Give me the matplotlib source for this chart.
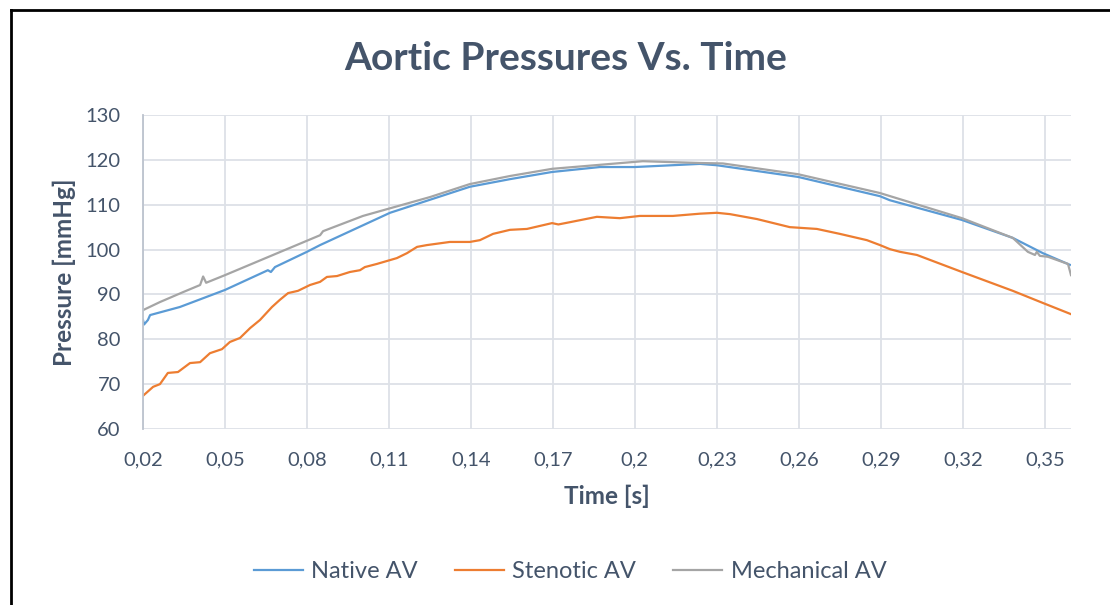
import matplotlib

matplotlib.use("Agg")
import matplotlib.pyplot as plt
from matplotlib.lines import Line2D
from matplotlib.ticker import FixedLocator, FuncFormatter

# aortic pressure traces (time in s, pressure in mmHg)
t_native = [0.0200, 0.0204, 0.0218, 0.0226, 0.0335, 0.0500, 0.0657, 0.0668, 0.0683,
            0.0800, 0.0848, 0.1104, 0.1396, 0.1543, 0.1697, 0.1872, 0.2000, 0.2238,
            0.2300, 0.2597, 0.2897, 0.2933, 0.3197, 0.3383, 0.3493, 0.3592]
p_native = [84.3, 83.3, 84.3, 85.4, 87.2, 91.0, 95.4, 95.0, 96.1,
            99.5, 101.0, 108.2, 114.0, 115.7, 117.3, 118.4, 118.4, 119.1,
            118.8, 116.2, 111.9, 111.0, 106.6, 102.6, 99.2, 96.6]

t_stenotic = [0.0200, 0.0237, 0.0262, 0.0291, 0.0328, 0.0372, 0.0409, 0.0445, 0.0489,
              0.0518, 0.0555, 0.0592, 0.0628, 0.0672, 0.0701, 0.0731, 0.0767, 0.0811,
              0.0848, 0.0873, 0.0910, 0.0957, 0.0994, 0.1012, 0.1056, 0.1129, 0.1166,
              0.1203, 0.1239, 0.1323, 0.1396, 0.1433, 0.1481, 0.1543, 0.1605, 0.1697,
              0.1720, 0.1762, 0.1861, 0.1945, 0.2018, 0.2139, 0.2238, 0.2300, 0.2348,
              0.2447, 0.2567, 0.2666, 0.2750, 0.2849, 0.2897, 0.2933, 0.2970, 0.3032,
              0.3197, 0.3383, 0.3493, 0.3596]
p_stenotic = [67.4, 69.4, 70.0, 72.5, 72.7, 74.7, 74.9, 76.9, 77.8,
              79.4, 80.3, 82.5, 84.3, 87.2, 88.8, 90.3, 90.8, 92.1,
              92.8, 93.9, 94.1, 95.0, 95.4, 96.1, 96.8, 98.1, 99.2,
              100.6, 101.0, 101.7, 101.7, 102.1, 103.5, 104.4, 104.6, 105.9,
              105.6, 106.1, 107.3, 107.0, 107.5, 107.5, 108.0, 108.2, 107.9,
              106.8, 105.0, 104.6, 103.5, 102.1, 101.0, 100.1, 99.5, 98.8,
              95.0, 90.8, 88.1, 85.6]

t_mech = [0.0200, 0.0262, 0.0346, 0.0409, 0.0420, 0.0431, 0.0500, 0.0676, 0.0848,
          0.0859, 0.1005, 0.1104, 0.1250, 0.1396, 0.1543, 0.1697, 0.2029, 0.2238,
          0.2322, 0.2597, 0.2897, 0.3197, 0.3383, 0.3438, 0.3464, 0.3471, 0.3482,
          0.3511, 0.3585, 0.3596]
p_mech = [86.5, 88.3, 90.5, 92.1, 94.0, 92.6, 94.3, 98.8, 103.2,
          104.1, 107.5, 109.2, 111.7, 114.6, 116.4, 118.0, 119.7, 119.3,
          119.2, 116.8, 112.6, 107.0, 102.6, 99.5, 98.8, 99.5, 98.6,
          98.4, 96.8, 94.3]

x_ticks = [0.02, 0.05, 0.08, 0.11, 0.14, 0.17, 0.20, 0.23, 0.26, 0.29, 0.32, 0.35]
y_ticks = [60, 70, 80, 90, 100, 110, 120, 130]

TXT = "#44546A"
GRID = "#DDE1E7"
plt.rcParams["font.family"] = ["Lato", "DejaVu Sans"]

fig = plt.figure(figsize=(11.1, 6.05), dpi=100)
ax = fig.add_axes([143 / 1110, 1 - 429 / 605, 928 / 1110, 314 / 605])

ax.plot(t_native, p_native, color="#5B9BD5", lw=1.6, label="Native AV")
ax.plot(t_stenotic, p_stenotic, color="#ED7D31", lw=1.6, label="Stenotic AV")
ax.plot(t_mech, p_mech, color="#A5A5A5", lw=1.6, label="Mechanical AV")

ax.set_xlim(0.02, 0.3596)
ax.set_ylim(60, 130)
ax.xaxis.set_major_locator(FixedLocator(x_ticks))
ax.yaxis.set_major_locator(FixedLocator(y_ticks))
ax.xaxis.set_major_formatter(FuncFormatter(
    lambda v, _: f"{v:.2f}".rstrip("0").replace(".", ",")))
ax.grid(color=GRID, lw=1.3)
ax.set_axisbelow(True)
for s in ("top", "right", "bottom"):
    ax.spines[s].set_visible(False)
ax.spines["left"].set_color("#BCC3CE")
ax.spines["left"].set_linewidth(1.3)
ax.tick_params(length=0, labelsize=14.5, labelcolor=TXT, pad=16)

ax.set_xlabel("Time [s]", fontsize=17.5, fontweight="bold", color=TXT, labelpad=12)
ax.set_ylabel("Pressure [mmHg]", fontsize=17.5, fontweight="bold", color=TXT, labelpad=7)
fig.text(566 / 1110, 1 - 58 / 605, "Aortic Pressures Vs. Time", fontsize=28,
         fontweight="bold", color=TXT, ha="center", va="center")

fig.legend(loc="center", bbox_to_anchor=(570 / 1110, 1 - 572 / 605), ncol=3,
           frameon=False, fontsize=17, labelcolor=TXT, handlelength=2.1,
           columnspacing=1.55, handletextpad=0.35)

# outer chart frame
fig.add_artist(Line2D([10.5 / 1110, 10.5 / 1110], [0, 1 - 9.5 / 605],
                      color="black", lw=2, transform=fig.transFigure))
fig.add_artist(Line2D([10.5 / 1110, 1], [1 - 9.5 / 605, 1 - 9.5 / 605],
                      color="black", lw=2, transform=fig.transFigure))

fig.savefig("out.png", dpi=100)
